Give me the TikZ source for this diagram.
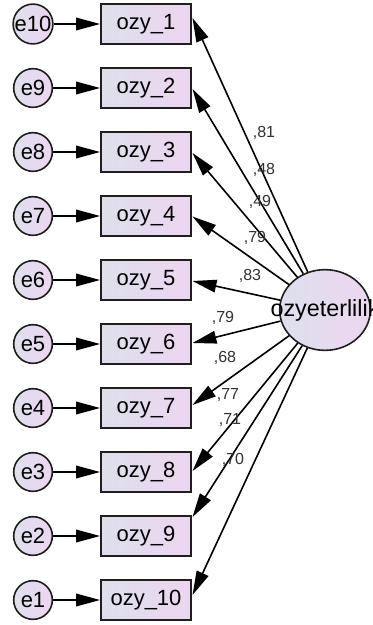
\documentclass[tikz,border=0pt]{standalone}
\usepackage{fontspec}
\setmainfont{Liberation Sans}
\usetikzlibrary{arrows.meta,shapes.geometric}
\definecolor{fillL}{RGB}{222,224,236}
\definecolor{fillR}{RGB}{236,214,240}
\definecolor{strokec}{RGB}{30,30,30}
\definecolor{coefc}{RGB}{50,50,50}
\begin{document}
\begin{tikzpicture}[x=0.75pt,y=-0.75pt,
  obs/.style={draw=strokec, line width=1.5pt, rectangle, minimum width=67.5pt,
    minimum height=29.5pt, left color=fillL, right color=fillR, inner sep=0pt,
    font=\fontsize{16.5}{16.5}\selectfont},
  err/.style={draw=strokec, line width=1.2pt, circle, minimum size=29pt,
    inner sep=0pt, left color=fillL, right color=fillR,
    font=\fontsize{16.5}{16.5}\selectfont},
  lat/.style={draw=strokec, line width=1.2pt, ellipse, minimum width=68pt,
    minimum height=60.5pt, inner sep=0pt, left color=fillL, right color=fillR},
  regarrow/.style={draw=black, line width=1.2pt,
    -{Triangle[length=18pt,width=9.5pt]}},
  coefl/.style={font=\fontsize{12}{12}\selectfont, text=coefc, inner sep=0pt}
]
\useasboundingbox (0,0) rectangle (372,625);
\fill[white] (0,0) rectangle (372,625);
\clip (0,0) rectangle (372,625);

% observed indicators, their error terms and tip points for the loadings
\foreach \i/\y/\ty/\e in {1/24/18/10, 2/88/89/9, 3/152/153/8, 4/216/216.5/7,
    5/280/281/6, 6/344/343/5, 7/408/405/4, 8/472/471/3, 9/536/517/2,
    10/600/595/1} {
  \node[obs] (b\i) at (146,\y) {ozy\_\i};
  \node[err] (e\e) at (33,\y) {e\e};
  \draw[regarrow] (e\e) -- (b\i);
  \coordinate (t\i) at (192.5,\ty);
}

% latent factor (its name runs past the right edge and is clipped there)
\node[lat, label={[font=\fontsize{17.5}{17.5}\selectfont]center:ozyeterlilik}]
  (F) at (325,310) {};

% factor loadings
\foreach \i in {1,...,10} {
  \draw[regarrow] (F) -- (t\i);
}

% standardized coefficients
\node[coefl] (c1) at (264,133) {,81};
\node[coefl] (c2) at (264,170) {,48};
\node[coefl] (c3) at (260,202) {,49};
\node[coefl] (c4) at (255,238) {,79};
\node[coefl] (c5) at (250,276) {,83};
\node[coefl] (c6) at (223,318) {,79};
\node[coefl] (c7) at (225,358) {,68};
\node[coefl] (c8) at (228,395) {,77};
\node[coefl] (c9) at (230,420) {,71};
\node[coefl] (c10) at (233,460) {,70};
\end{tikzpicture}
\end{document}
